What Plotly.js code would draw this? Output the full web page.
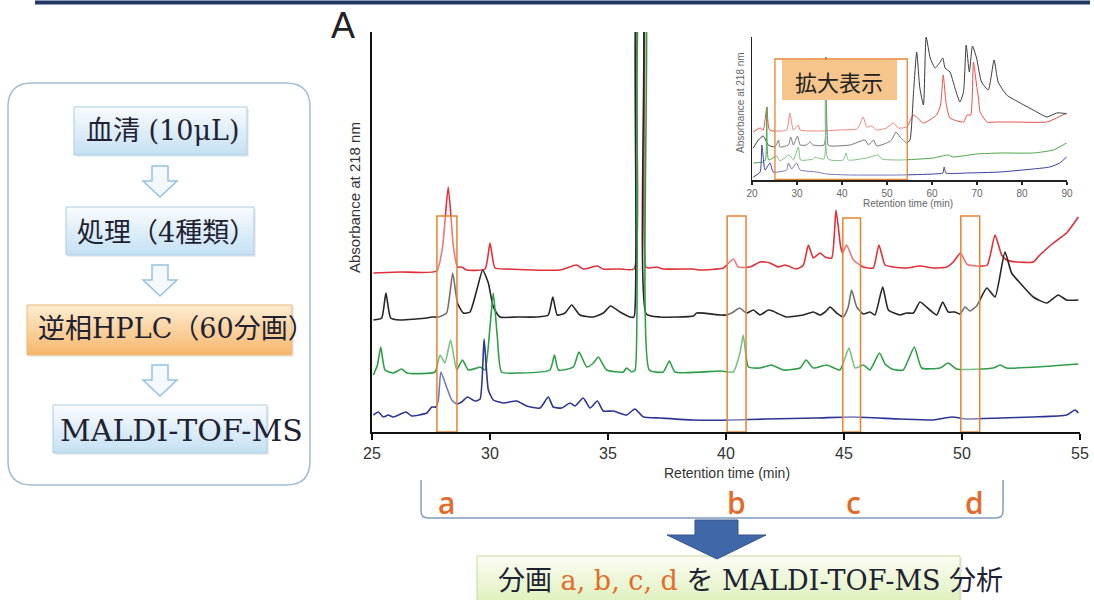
<!DOCTYPE html>
<html>
<head>
<meta charset="utf-8">
<script src="https://cdn.plot.ly/plotly-3.0.1.min.js"></script>
<style>html,body{margin:0;padding:0;background:#fff;}#chart{width:1094px;height:600px;}</style>
</head>
<body>
<div id="chart"></div>
<script>
// ---------- Main chromatogram (25-55 min), absorbance in arbitrary units ----------
const redTime = [25.06,26.19,27.74,27.99,28.23,28.45,28.62,28.8,29.01,29.79,30.0,30.21,30.71,32.97,33.67,33.95,34.55,34.8,35.5,36.1,36.25,36.45,36.6,36.78,37.06,37.34,38.6,38.9,39.89,40.31,40.52,41.02,41.44,41.65,41.86,42.22,42.5,43.0,43.28,43.49,43.7,43.98,44.2,44.48,44.66,44.86,44.94,45.11,45.4,45.82,46.24,46.48,46.74,47.09,47.65,48.22,48.79,49.35,49.63,49.94,50.2,50.62,51.07,51.4,51.68,51.89,52.32,53.02,53.3,53.87,54.43,54.93];
const redAbs = [159,160,161,185,245,185,165,165,162,163,189,164,163,162,167,163,166,163,163,163,450,450,165,164,165,163,163,162,164,173,165,165,170,170,169,165,167,163,167,187,174,179,175,174,222,185,179,187,172,165,164,187,167,165,164,166,164,165,170,179,168,166,167,197,177,172,170,170,177,189,199,215];

const blackTime = [25.06,25.41,25.59,25.79,26.19,27.32,27.53,27.81,28.16,28.42,28.62,28.87,29.15,29.44,29.69,29.93,30.14,30.42,31.13,31.98,32.47,32.66,32.85,33.18,33.46,33.81,34.38,34.8,35.11,35.51,35.93,36.1,36.25,36.45,36.62,37.2,38.62,38.76,39.75,40.03,40.31,40.57,40.88,41.16,41.44,41.79,41.98,42.15,42.57,43.28,43.7,43.98,44.2,44.41,44.69,44.97,45.18,45.32,45.54,45.82,46.1,46.31,46.64,46.88,47.37,47.65,47.94,48.22,48.64,48.93,49.18,49.42,49.7,49.92,50.13,50.34,50.62,51.05,51.4,51.82,52.1,52.46,53.02,53.59,54.08,54.43,54.93];
const blackAbs = [112,114,139,114,112,114,115,115,119,159,129,119,120,142,162,149,125,115,115,115,117,135,117,119,127,117,115,119,126,120,115,115,450,450,118,115,116,119,117,117,120,124,119,122,117,122,121,119,115,117,120,117,120,125,119,115,125,142,125,118,120,117,145,122,117,119,119,130,122,117,130,120,120,118,125,121,126,144,135,180,159,149,135,129,137,132,132];

const greenTime = [25.06,25.23,25.37,25.55,25.9,26.26,26.47,27.67,27.88,28.09,28.33,28.59,28.83,29.08,29.44,29.58,29.79,30.0,30.14,30.31,30.49,31.27,32.54,32.73,32.9,33.53,33.77,34.1,34.38,34.59,34.94,35.65,35.79,36.0,36.15,36.35,36.55,36.75,37.34,37.6,37.84,39.75,40.31,40.59,40.73,40.95,41.44,41.93,42.43,43.14,43.39,43.7,44.27,44.83,45.21,45.47,45.82,46.1,46.5,46.74,47.02,47.51,47.98,48.29,49.07,49.42,49.77,51.33,51.61,51.89,54.93];
const greenAbs = [57,67,85,62,59,63,59,60,77,69,92,62,72,62,64,65,62,105,139,95,60,59,62,77,62,65,80,65,69,75,62,60,64,60,62,450,450,62,60,71,60,61,60,79,97,65,64,67,62,64,72,64,67,62,84,64,67,62,79,68,63,62,85,64,64,69,63,64,67,64,68];

const blueTime = [25.06,25.27,25.48,25.69,25.9,26.44,26.68,27.32,27.53,27.71,27.81,27.92,28.16,28.38,28.59,28.8,29.04,29.36,29.58,29.75,29.93,30.14,30.56,31.13,31.55,32.12,32.47,32.68,33.04,33.39,33.6,33.95,34.24,34.55,34.8,35.23,35.79,36.14,36.5,37.2,38.62,40.31,41.72,43.84,45.32,47.37,48.79,49.56,50.2,51.61,53.02,54.43,54.79,54.93];
const blueAbs = [17,20,15,17,15,20,16,19,25,25,32,60,45,32,28,30,35,31,33,93,42,32,29,31,26,24,35,25,24,29,26,34,24,31,21,21,17,23,15,14,12,12,13,14,15,13,12,15,13,14,15,17,22,19];

const mainTicks = [25,30,35,40,45,50,55];
// fraction windows a, b, c, d (min)
const fractionLabels = ['a','b','c','d'];
const fractionStart = [27.75,40.05,44.95,49.95];
const fractionEnd   = [28.6,40.85,45.7,50.75];
const fractionTop   = [216,216,214,216];

// ---------- Inset chromatogram (20-90 min) ----------
const insetRedTime = [20.3,21.8,22.5,23.3,23.9,27.7,28.4,29.2,30.3,30.7,34.4,39.6,43.3,43.9,44.7,45.5,46.6,47.7,49.9,51.4,52.5,54.4,55.9,58.1,61.0,61.9,62.5,63.1,64.0,67.0,67.8,68.6,69.2,69.9,70.3,70.7,72.2,74.4,78.1,85.5,87.7,89.9];
const insetRedAbs = [48,52,50,73,50,50,67,50,55,50,49,50,51,55,63,53,54,50,52,57,52,53,65,57,65,75,105,78,62,58,65,65,118,95,83,68,58,58,58,58,62,67];
const insetBlackTime = [20.3,21.4,22.5,23.6,25.1,25.9,26.2,28.1,28.6,29.2,30.1,30.7,32.1,32.9,33.6,36.0,36.4,36.9,37.3,41.8,45.1,45.9,47.0,47.7,49.9,51.0,52.0,52.9,54.4,55.1,55.9,56.6,57.3,58.1,58.7,59.6,60.7,61.8,62.4,62.9,64.0,65.1,66.2,67.0,67.6,68.3,69.0,69.9,71.0,72.5,73.8,74.7,76.6,79.6,83.3,85.5,87.7,88.8,89.9];
const insetBlackAbs = [32,40,44,35,33,40,33,35,43,35,44,35,35,38,35,35,123,35,34,35,40,35,40,34,37,40,48,43,37,40,88,128,92,75,143,122,112,118,122,112,108,92,78,88,135,108,134,122,98,90,120,98,85,77,68,63,67,67,66];
const insetGreenTime = [20.3,22.5,23.0,23.3,23.7,25.5,26.2,28.3,29.2,30.3,30.8,33.6,34.0,34.7,36.0,36.4,36.9,40.3,40.9,41.4,45.5,48.1,48.8,52.9,60.3,63.6,64.7,69.9,75.1,82.5,87.0,89.9];
const insetGreenAbs = [17,18,20,73,20,24,19,25,20,33,20,21,23,22,21,123,21,20,27,20,22,25,21,20,22,25,23,26,27,27,30,37];
const insetBlueTime = [20.3,21.8,22.2,22.9,24.0,24.7,27.7,28.1,28.8,29.9,30.7,34.4,36.6,41.8,52.9,60.3,62.4,62.7,63.1,67.7,75.1,82.5,86.2,88.4,89.9];
const insetBlueAbs = [3,8,35,10,17,8,10,17,11,17,10,8,6,5,5,6,7,13,7,7,8,11,13,17,23];
const insetTicks = [20,30,40,50,60,70,80,90];
const zoomWindow = [25.1,54.5];

// ---------- Flow chart text ----------
const flowSteps = ['血清 (10μL)','処理（4種類）','逆相HPLC（60分画）','MALDI-TOF-MS'];

// ================= helpers (layout only) =================
const W = 1094, H = 600;
const X = p => +(p / W).toFixed(5);
const Y = p => +(1 - p / H).toFixed(5);
function path(pts){ return 'M' + pts.map(p => X(p[0]) + ',' + Y(p[1])).join(' L') + ' Z'; }
function roundRect(x0,y0,x1,y1,r){
  return `M${X(x0+r)},${Y(y0)} L${X(x1-r)},${Y(y0)} Q${X(x1)},${Y(y0)} ${X(x1)},${Y(y0+r)} L${X(x1)},${Y(y1-r)} Q${X(x1)},${Y(y1)} ${X(x1-r)},${Y(y1)} L${X(x0+r)},${Y(y1)} Q${X(x0)},${Y(y1)} ${X(x0)},${Y(y1-r)} L${X(x0)},${Y(y0+r)} Q${X(x0)},${Y(y0)} ${X(x0+r)},${Y(y0)} Z`;
}
function lerp(c0,c1,t){ return 'rgb(' + c0.map((v,i)=>Math.round(v+(c1[i]-v)*t)).join(',') + ')'; }
const shapes = [];
function pRect(x0,y0,x1,y1,fill,line,lw){
  shapes.push({type:'rect',xref:'paper',yref:'paper',x0:X(x0),x1:X(x1),y0:Y(y1),y1:Y(y0),
    fillcolor:fill||'rgba(0,0,0,0)',line:{color:line||'rgba(0,0,0,0)',width:lw||0},layer:'above'});
}
function gradBox(x0,y0,x1,y1,c0,c1,border){
  pRect(x0+2,y0+2,x1+2,y1+2,'rgba(0,0,0,0.07)');
  const n = 14;
  for(let i=0;i<n;i++){
    const ya = y0+(y1-y0)*i/n, yb = y0+(y1-y0)*(i+1)/n + 0.6;
    pRect(x0,ya,x1,Math.min(yb,y1),lerp(c0,c1,(i+0.5)/n));
  }
  pRect(x0,y0,x1,y1,null,border,1);
}
function outlineArrow(cx,top){
  shapes.push({type:'path',xref:'paper',yref:'paper',layer:'above',
    path:path([[cx-8,top],[cx+8,top],[cx+8,top+15],[cx+17,top+15],[cx,top+31],[cx-17,top+15],[cx-8,top+15]]),
    fillcolor:'#f4f9fd',line:{color:'#93c2df',width:1.5}});
}

// top rule
shapes.push({type:'line',xref:'paper',yref:'paper',x0:X(35),x1:X(1090),y0:Y(2.5),y1:Y(2.5),line:{color:'#1f3866',width:4}});
// flow chart frame
shapes.push({type:'path',xref:'paper',yref:'paper',path:roundRect(8,83,310,485,24),fillcolor:'rgba(0,0,0,0)',line:{color:'#9fbdd3',width:1.5}});
gradBox(74,107,247,155,[250,252,254],[196,224,243],'#a8cde6');
gradBox(66,207,254,255,[250,252,254],[196,224,243],'#a8cde6');
gradBox(27,305,292,355,[254,238,212],[246,182,106],'#efb774');
gradBox(53,405,267,453,[250,252,254],[196,224,243],'#a8cde6');
outlineArrow(160,166);
outlineArrow(160,265);
outlineArrow(160,365);

// fraction windows in the main chromatogram
for(let i=0;i<fractionStart.length;i++){
  shapes.push({type:'rect',xref:'x',yref:'y',x0:fractionStart[i],x1:fractionEnd[i],y0:0,y1:fractionTop[i],
    fillcolor:'rgba(255,255,255,0.35)',line:{color:'#e8822f',width:1.5},layer:'above'});
}
// zoom window in inset
shapes.push({type:'rect',xref:'x2',yref:'y2',x0:zoomWindow[0],x1:zoomWindow[1],y0:0.5,y1:121,
  fillcolor:'rgba(255,255,255,0.3)',line:{color:'#e8822f',width:1.3},layer:'above'});
pRect(782,60,897,100,'#f5c58c');

// brace under axis
shapes.push({type:'path',xref:'paper',yref:'paper',layer:'above',
  path:`M${X(421)},${Y(480)} L${X(421)},${Y(511)} Q${X(421)},${Y(518)} ${X(428)},${Y(518)} L${X(996)},${Y(518)} Q${X(1003)},${Y(518)} ${X(1003)},${Y(511)} L${X(1003)},${Y(480)}`,
  line:{color:'#7f9cba',width:1.5}});
// bottom result box
gradBox(477,556,960,606,[252,253,244],[220,239,184],'#c6d99a');
// big blue arrow
shapes.push({type:'path',xref:'paper',yref:'paper',layer:'above',
  path:path([[695,520],[738,520],[738,535],[766,535],[717,559],[667,535],[695,535]]),
  fillcolor:'#4067a8',line:{color:'#34558f',width:1}});

// ================= traces =================
function tr(x,y,color,w,xa,ya){ return {type:'scatter',mode:'lines',x:x,y:y,xaxis:xa,yaxis:ya,
  line:{color:color,width:w,shape:'spline',smoothing:0.5},hoverinfo:'skip',showlegend:false}; }
const data = [
  tr(redTime,redAbs,'#e0303a',1.6,'x','y'),
  tr(blackTime,blackAbs,'#262626',1.6,'x','y'),
  tr(greenTime,greenAbs,'#2e9e48',1.6,'x','y'),
  tr(blueTime,blueAbs,'#2d3592',1.6,'x','y'),
  tr(insetRedTime,insetRedAbs,'#e8504a',1,'x2','y2'),
  tr(insetBlackTime,insetBlackAbs,'#3a3a3a',1,'x2','y2'),
  tr(insetGreenTime,insetGreenAbs,'#4aa84a',1,'x2','y2'),
  tr(insetBlueTime,insetBlueAbs,'#3a3f9a',1,'x2','y2')
];

// ================= annotations =================
const ann = [];
function txt(t,px,py,size,color,family,extra){
  ann.push(Object.assign({xref:'paper',yref:'paper',x:X(px),y:Y(py),text:t,showarrow:false,xanchor:'center',yanchor:'middle',
    font:{size:size,color:color,family:family}},extra||{}));
}
const SANS = 'Liberation Sans, Arial, sans-serif';
const SERIF = 'DejaVu Serif, Noto Sans CJK JP, serif';
txt('A',343,26,36,'#222',SANS);
txt('Absorbance at 218 nm',355,198,15,'#333',SANS,{textangle:-90});
txt('Retention time (min)',727,473,14,'#333',SANS);
txt('Absorbance at 218 nm',740,103,10,'#666',SANS,{textangle:-90});
txt('Retention time (min)',908,204,10,'#666',SANS);
txt('拡大表示',839,81,22,'#222','Noto Sans CJK JP');
txt(flowSteps[0],163,130,27,'#1e2233',SERIF);
txt(flowSteps[1],167,232,27,'#1e2233',SERIF);
txt(flowSteps[2],177,328,27,'#1e2233',SERIF);
txt(flowSteps[3],181,430,30,'#1e2233',SERIF);
const labelX = [447,737,853,975];
fractionLabels.forEach((l,i)=>ann.push({xref:'paper',yref:'paper',x:X(labelX[i]),y:Y(503),text:l,showarrow:false,
  xanchor:'center',yanchor:'middle',font:{size:30,color:'#e36c2a',family:'Open Sans, Liberation Sans, sans-serif',weight:600}}));
txt('分画 <span style="color:#e36c2a">' + fractionLabels.join(', ') + '</span> を MALDI-TOF-MS 分析',751,581,27,'#1e2233',SERIF);

const layout = {
  width:W,height:H,margin:{l:0,r:0,t:0,b:0,pad:0},
  paper_bgcolor:'#fff',plot_bgcolor:'rgba(0,0,0,0)',showlegend:false,
  xaxis:{domain:[372/W,1080/W],range:[25,55],anchor:'y',tickvals:mainTicks,ticks:'outside',ticklen:6,tickwidth:2,tickcolor:'#111',
    showline:true,linewidth:2,linecolor:'#111',showgrid:false,zeroline:false,fixedrange:true,
    tickfont:{family:SANS,size:16,color:'#333'}},
  yaxis:{domain:[168/H,568/H],range:[0,400],anchor:'x',showline:true,linewidth:2,linecolor:'#111',showticklabels:false,ticks:'',
    showgrid:false,zeroline:false,fixedrange:true},
  xaxis2:{domain:[752/W,1067/W],range:[20,90],anchor:'y2',tickvals:insetTicks,ticks:'outside',ticklen:3,tickwidth:1.2,tickcolor:'#222',
    showline:true,linewidth:1.5,linecolor:'#222',showgrid:false,zeroline:false,fixedrange:true,
    tickfont:{family:SANS,size:10,color:'#666'}},
  yaxis2:{domain:[420/H,563/H],range:[0,143],anchor:'x2',showline:true,linewidth:1.5,linecolor:'#222',showticklabels:false,ticks:'',
    showgrid:false,zeroline:false,fixedrange:true},
  shapes:shapes,annotations:ann
};
Plotly.newPlot('chart',data,layout,{displayModeBar:false,staticPlot:true});
</script>
</body>
</html>
